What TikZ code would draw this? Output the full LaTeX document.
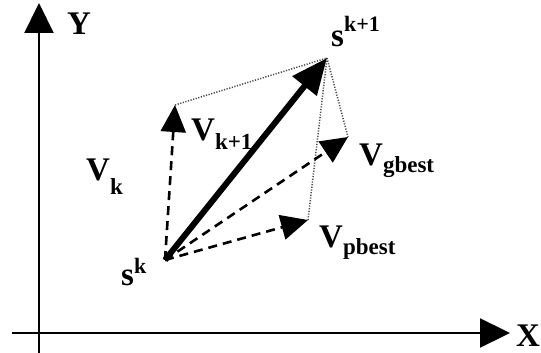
\documentclass[tikz,border=0pt]{standalone}
\usepackage{fontspec}
\setmainfont{Liberation Serif}
\usetikzlibrary{arrows.meta}
\tikzset{
  axis/.style={line width=2.2pt, -{Triangle[length=30pt,width=29pt]}},
  bigvec/.style={line width=6pt, -{Triangle[length=36pt,width=30pt]}},
  dvec/.style={line width=2.6pt, dash pattern=on 9pt off 6pt, -{Triangle[length=27pt,width=25pt]}},
  dotline/.style={line width=1.5pt, dash pattern=on 1.2pt off 1.5pt, gray!60!black},
  lab/.style={inner sep=0pt, anchor=base west, font=\bfseries\fontsize{33}{33}\selectfont},
  axlab/.style={inner sep=0pt, anchor=base west, font=\bfseries\fontsize{33}{33}\selectfont},
}
\newcommand{\subtxt}[2]{\raisebox{-#1}{\fontsize{23}{23}\selectfont #2}}
\newcommand{\suptxt}[2]{\raisebox{#1}{\fontsize{22}{22}\selectfont #2}}
\begin{document}
\begin{tikzpicture}[x=1pt,y=-1pt]
\useasboundingbox (0,0) rectangle (541,353);
% axes
\coordinate (xa) at (12,333);
\coordinate (xb) at (510,333);
\coordinate (ya) at (39,353);
\coordinate (yb) at (39,3);
\draw[axis] (xa) -- (xb);
\draw[axis] (ya) -- (yb);
\node[axlab] (xl) at (516,346) {X};
\node[axlab] (yl) at (67,35) {Y};
% points
\coordinate (sk) at (165,260);
\coordinate (sk1) at (327,58);
\coordinate (vk1) at (175,105);
\coordinate (vg) at (348,137);
\coordinate (vp) at (308,220);
% dotted construction lines
\draw[dotline] (vk1) -- (sk1);
\draw[dotline] (sk1) -- (vg);
\draw[dotline] (sk1) -- (vp);
% vectors
\draw[dvec] (sk) -- (vk1);
\draw[dvec] (sk) -- (vg);
\draw[dvec] (sk) -- (vp);
\draw[bigvec] (sk) -- (sk1);
% labels
\node[lab] (lsk) at (121,285) {s\suptxt{12pt}{k}};
\node[lab] (lsk1) at (331,47) {s\suptxt{15pt}{k+1}};
\node[lab] (lvk1) at (191,140) {V\subtxt{9pt}{k+1}};
\node[lab] (lvk) at (86,180) {V\subtxt{14pt}{k}};
\node[lab] (lvg) at (359,165) {V\subtxt{7pt}{gbest}};
\node[lab] (lvp) at (319,247) {V\subtxt{7pt}{pbest}};
\end{tikzpicture}
\end{document}
